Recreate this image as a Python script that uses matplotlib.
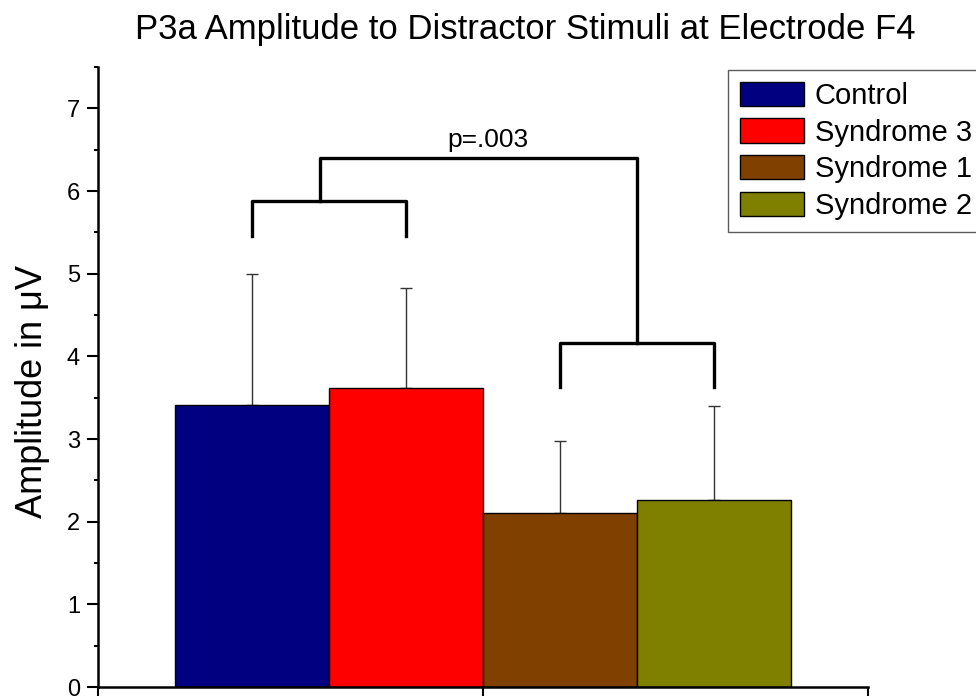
import matplotlib
matplotlib.use('Agg')
import matplotlib.pyplot as plt

plt.rcParams['font.family'] = ['Liberation Sans', 'DejaVu Sans']

# Données
groups = ['Control', 'Syndrome 3', 'Syndrome 1', 'Syndrome 2']
means = [3.41, 3.62, 2.11, 2.26]
errors = [1.59, 1.21, 0.87, 1.14]
colors = ['#000080', '#ff0000', '#804000', '#808000']

# Crochets de comparaison (hauteurs en µV)
left_pair = [5.46, 5.88]
right_pair = [3.63, 4.16]
top_level = 6.40
p_text = 'p=.003'

fig = plt.figure(figsize=(9.76, 6.96), dpi=100)
ax = fig.add_axes([0.1004, 0.0129, 0.7886, 0.8908])

xpos = [1, 2, 3, 4]
for x, m, e, c, g in zip(xpos, means, errors, colors, groups):
    ax.bar(x, m, width=1.0, color=c, edgecolor='black', linewidth=1.0, label=g, zorder=2)
    ax.errorbar(x, m, yerr=[[0], [e]], color='#333333', elinewidth=1.0,
                capsize=4.5, capthick=1.0, zorder=1)

# crochets
lw = 2.4
ax.plot([xpos[0], xpos[0], xpos[1], xpos[1]],
        [left_pair[0], left_pair[1], left_pair[1], left_pair[0]], color='black', lw=lw)
ax.plot([xpos[2], xpos[2], xpos[3], xpos[3]],
        [right_pair[0], right_pair[1], right_pair[1], right_pair[0]], color='black', lw=lw)
stem_l = 1.44
stem_r = 3.5
ax.plot([stem_l, stem_l, stem_r, stem_r],
        [left_pair[1], top_level, top_level, right_pair[1]], color='black', lw=lw)
ax.text(2.53, top_level + 0.07, p_text, ha='center', va='bottom', fontsize=19)

ax.set_xlim(0, 5)
ax.set_ylim(0, 7.5)
ax.set_xticks([0, 2.5, 5])
ax.set_xticklabels([])
ax.set_yticks(range(0, 8))
ax.set_yticks([0.5 + i for i in range(8)], minor=True)
ax.tick_params(axis='both', which='major', direction='out', length=8, width=1.5,
               labelsize=17, pad=5)
ax.tick_params(axis='y', which='minor', direction='out', length=3, width=1.5)
for s in ['top', 'right']:
    ax.spines[s].set_visible(False)
for s in ['left', 'bottom']:
    ax.spines[s].set_linewidth(1.8)

ax.set_ylabel('Amplitude in μV', fontsize=26)
ax.yaxis.set_label_coords(-0.062, 0.477)
fig.text(525 / 976, 1 - 30 / 696, 'P3a Amplitude to Distractor Stimuli at Electrode F4',
         ha='center', va='center', fontsize=25)

leg = ax.legend(loc='upper left', bbox_to_anchor=(728 / 976, 1 - 70 / 696),
                bbox_transform=fig.transFigure, fontsize=21, frameon=True, fancybox=False,
                handlelength=2.2, handleheight=0.89, handletextpad=0.38,
                labelspacing=0.3, borderpad=0.4, borderaxespad=0)
leg.get_frame().set_edgecolor('#333333')
leg.get_frame().set_linewidth(1.0)

fig.savefig('out.png', dpi=100)
